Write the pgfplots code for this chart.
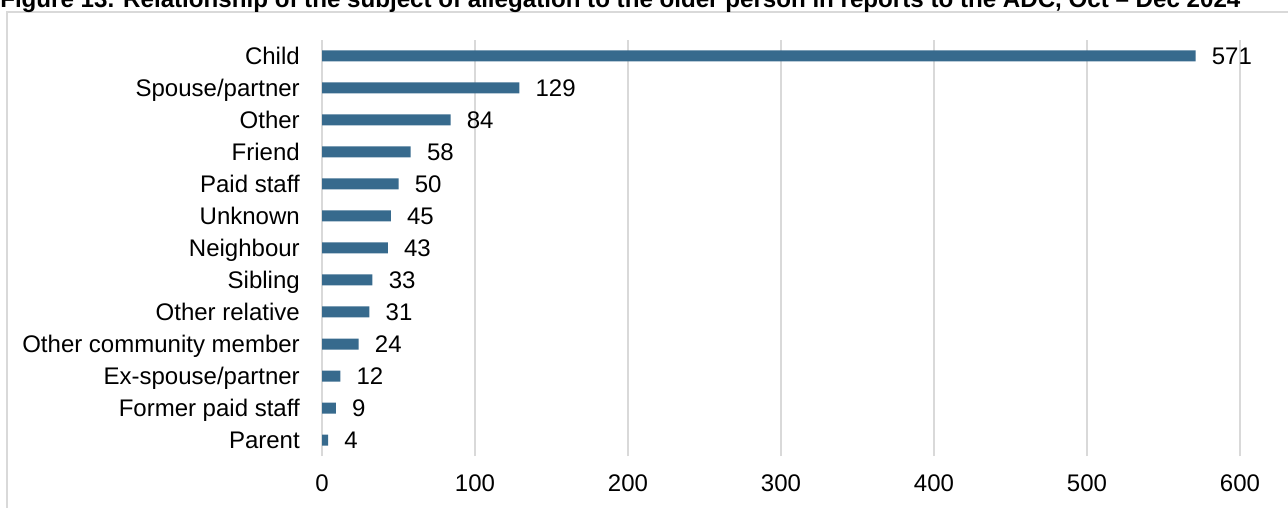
\documentclass[border=0pt]{standalone}
\usepackage{fontspec}
\setmainfont{Liberation Sans}
\usepackage{graphicx}
\usepackage{pgfplots}
\pgfplotsset{compat=1.18}
\definecolor{barblue}{HTML}{376A8D}
\definecolor{gridgrey}{HTML}{D9D9D9}
\begin{document}
\begin{tikzpicture}
  % picture is cropped like the reference (1 px = 0.75pt)
  \path[use as bounding box] (0pt,0pt) rectangle (966pt,380.25pt);
  \clip (0pt,0pt) rectangle (966pt,380.25pt);
  \draw[gridgrey, line width=1.5pt] (5.25pt,-15pt) -- (5.25pt,370.9pt) -- (980pt,370.9pt);
  \node[anchor=base west, inner sep=0pt] at (0pt,374.3pt)
    {\resizebox{930pt}{!}{\bfseries Figure 13. Relationship of the subject of allegation to the older person in reports to the ADC, Oct -- Dec 2024}};
  \begin{axis}[
      at={(241.5pt,38.25pt)}, anchor=south west,
      scale only axis,
      width=688.5pt, height=312pt,
      xmin=0, xmax=600, ymin=-0.5, ymax=12.5,
      enlargelimits=false,
      clip=false,
      xbar, bar width=8.25pt,
      axis lines=left,
      x axis line style={draw=none},
      y axis line style={gridgrey, line width=1.1pt, -},
      major tick length=0pt,
      xmajorgrids,
      grid style={gridgrey, line width=1.1pt},
      xtick={0,100,...,600},
      ytick={0,...,12},
      yticklabels={Parent, Former paid staff, Ex-spouse/partner,
        Other community member, Other relative, Sibling, Neighbour,
        Unknown, Paid staff, Friend, Other, Spouse/partner, Child},
      tick label style={font=\fontsize{18}{21}\selectfont},
      /pgf/number format/assume math mode=true,
      xticklabel style={inner sep=0pt, yshift=-13.5pt},
      yticklabel style={inner sep=0pt, xshift=-16.5pt, yshift=-2.5pt,
        text height=0.716em, text depth=0pt},
      nodes near coords,
      every node near coord/.append style={
        font=\fontsize{18}{21}\selectfont, inner sep=0pt, xshift=12pt,
        yshift=-2.5pt, text height=0.716em, text depth=0pt,
        /pgf/number format/assume math mode=true},
    ]
    \addplot[draw=none, fill=barblue] coordinates {
      (4,0) (9,1) (12,2) (24,3) (31,4) (33,5) (43,6)
      (45,7) (50,8) (58,9) (84,10) (129,11) (571,12)};
  \end{axis}
\end{tikzpicture}
\end{document}
